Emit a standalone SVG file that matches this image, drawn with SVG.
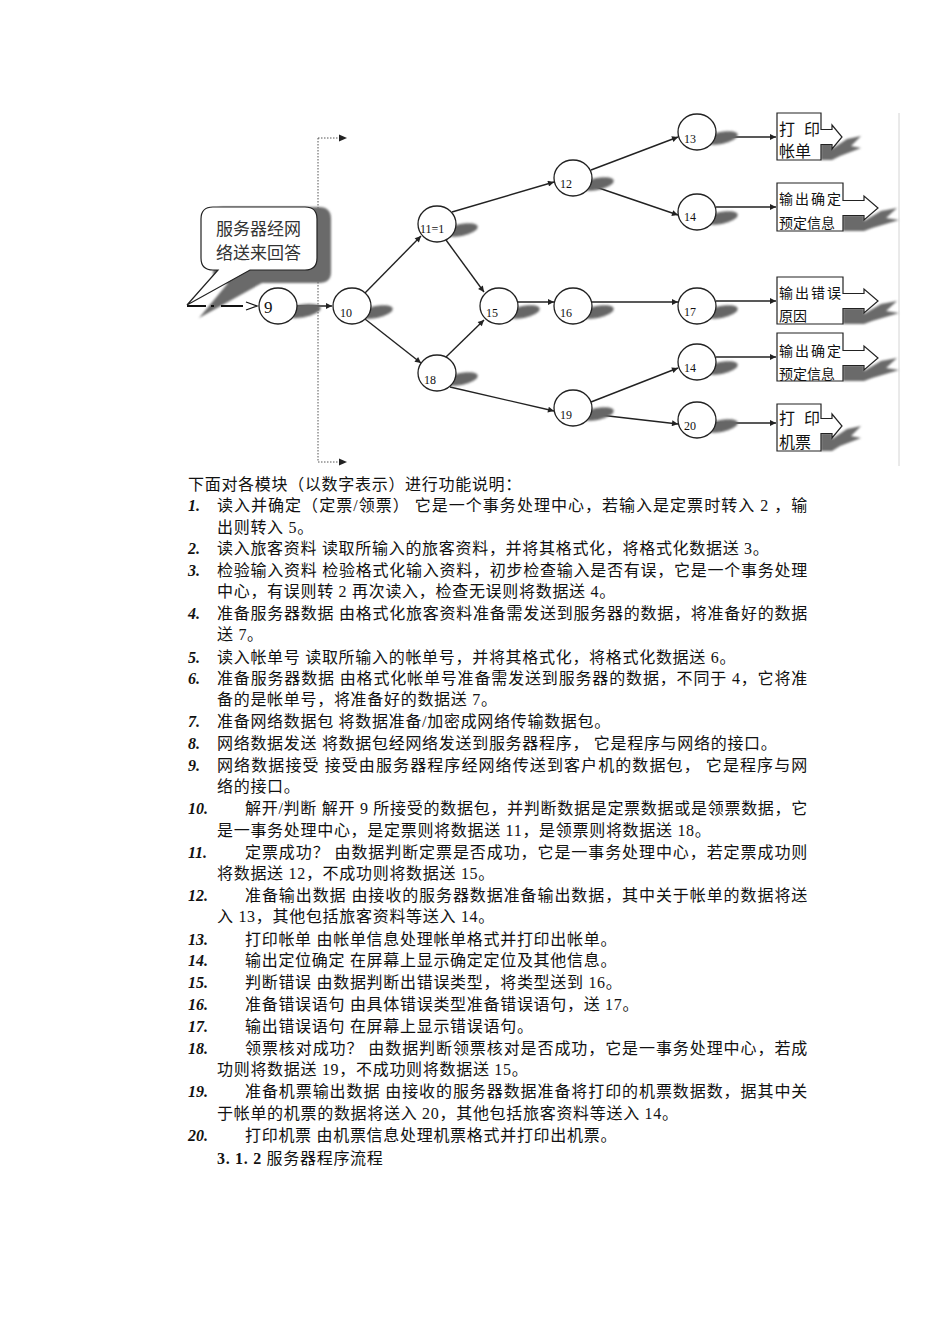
<svg xmlns="http://www.w3.org/2000/svg" width="950" height="1344" viewBox="0 0 950 1344">
<style>
.node ellipse.c{fill:#fff;stroke:#222;stroke-width:1.3}
.sh{fill:#666}
.lbl{font-family:"Liberation Serif","Noto Sans CJK SC",serif;font-size:12px;fill:#111}
.edge{stroke:#222;stroke-width:1.4;fill:none}
.box{fill:#fff;stroke:#222;stroke-width:1.2}
.bt{font-family:"Liberation Serif","Noto Sans CJK SC",serif;fill:#111}
.body{font-family:"Liberation Serif","Noto Sans CJK SC",serif;font-size:16px;fill:#111;letter-spacing:0.7px}
.num{font-family:"Liberation Serif","Noto Sans CJK SC",serif;font-size:16px;font-weight:bold;font-style:italic;fill:#111}
</style>
<defs>
<marker id="ah" viewBox="0 0 10 10" refX="10" refY="5" markerWidth="9" markerHeight="6" markerUnits="userSpaceOnUse" orient="auto"><path d="M0,0 L10,5 L0,10 z" fill="#222"/></marker>
<filter id="blur" x="-30%" y="-30%" width="160%" height="160%"><feGaussianBlur stdDeviation="0.9"/></filter>
</defs>
<rect width="950" height="1344" fill="#fff"/>

<!-- frame lines -->
<g id="frame">
<line x1="899" y1="113" x2="899" y2="466" stroke="#d4d4d4" stroke-width="1"/>
<line x1="318" y1="138" x2="318" y2="462" stroke="#555" stroke-width="1" stroke-dasharray="1.5,1.5"/>
<line x1="318" y1="138" x2="339" y2="138" stroke="#555" stroke-width="1" stroke-dasharray="1.5,1.5"/>
<path d="M339,134.5 L347,138 L339,141.5 z" fill="#222"/>
<line x1="318" y1="462" x2="339" y2="462" stroke="#555" stroke-width="1" stroke-dasharray="1.5,1.5"/>
<path d="M339,458.5 L347,462 L339,465.5 z" fill="#222"/>
</g>

<!-- callout -->
<g id="callout">
<path d="M213,217 Q213,207 223,207 L319,207 Q331,207 331,219 L331,272 Q331,283 319,283 L262,283 L199,318 L228,283 L223,283 Q213,283 213,270 Z" fill="#6a6a6a" filter="url(#blur)"/>
<path d="M201,219 Q201,207 213,207 L305,207 Q317,207 317,219 L317,258 Q317,270 305,270 L250,270 L187,305 L218,270 L213,270 Q201,270 201,258 Z" fill="#fff" stroke="#222" stroke-width="1.2"/>
<text x="216" y="235" font-family="Liberation Serif,'Noto Sans CJK SC',serif" font-size="17" fill="#333">服务器经网</text>
<text x="216" y="259" font-family="Liberation Serif,'Noto Sans CJK SC',serif" font-size="17" fill="#333">络送来回答</text>
</g>

<!-- connectors -->
<g id="connectors">
<g stroke="#111" stroke-width="2">
<line x1="187" y1="306" x2="206" y2="306"/>
<line x1="211" y1="306" x2="214" y2="306"/>
<line x1="221" y1="306" x2="243" y2="306"/>
</g>
<path d="M246,302 L257,306 L246,310" fill="none" stroke="#111" stroke-width="1.3"/>
<line class="edge" x1="297" y1="306" x2="332" y2="306" marker-end="url(#ah)"/>
<line class="edge" x1="365" y1="293" x2="421" y2="236" marker-end="url(#ah)"/>
<line class="edge" x1="365" y1="319" x2="421" y2="363" marker-end="url(#ah)"/>
<line class="edge" x1="452" y1="212" x2="554" y2="182" marker-end="url(#ah)"/>
<line class="edge" x1="446" y1="240" x2="484" y2="292" marker-end="url(#ah)"/>
<line class="edge" x1="446" y1="357" x2="484" y2="320" marker-end="url(#ah)"/>
<line class="edge" x1="450" y1="387" x2="554" y2="411" marker-end="url(#ah)"/>
<line class="edge" x1="591" y1="170" x2="678" y2="137" marker-end="url(#ah)"/>
<line class="edge" x1="590" y1="185" x2="678" y2="215" marker-end="url(#ah)"/>
<line class="edge" x1="518" y1="302" x2="554" y2="302" marker-end="url(#ah)"/>
<line class="edge" x1="592" y1="302" x2="678" y2="302" marker-end="url(#ah)"/>
<line class="edge" x1="591" y1="402" x2="678" y2="368" marker-end="url(#ah)"/>
<line class="edge" x1="591" y1="414" x2="678" y2="424" marker-end="url(#ah)"/>
<line class="edge" x1="716" y1="137" x2="776" y2="137" marker-end="url(#ah)"/>
<line class="edge" x1="716" y1="207" x2="776" y2="207" marker-end="url(#ah)"/>
<line class="edge" x1="716" y1="301" x2="776" y2="301" marker-end="url(#ah)"/>
<line class="edge" x1="716" y1="357" x2="776" y2="357" marker-end="url(#ah)"/>
<line class="edge" x1="716" y1="423" x2="776" y2="423" marker-end="url(#ah)"/>
</g>

<!-- nodes -->
<g id="n9" class="node"><ellipse class="sh" cx="302" cy="311" rx="19" ry="6.5" transform="rotate(-10 302 311)" filter="url(#blur)"/><ellipse class="c" cx="278" cy="306" rx="19" ry="18"/><text x="264" y="313" font-family="Liberation Serif,'Noto Sans CJK SC',serif" font-size="17" fill="#111">9</text></g>
<g id="n10" class="node"><ellipse class="sh" cx="376" cy="312" rx="17" ry="6" transform="rotate(-12 376 312)" filter="url(#blur)"/><ellipse class="c" cx="352" cy="306" rx="19" ry="18"/><text class="lbl" x="340" y="317">10</text></g>
<g id="n11" class="node"><ellipse class="sh" cx="461" cy="230" rx="17" ry="6" transform="rotate(-12 461 230)" filter="url(#blur)"/><ellipse class="c" cx="437" cy="224" rx="19" ry="18"/><text class="lbl" x="420" y="233">11=1</text></g>
<g id="n18" class="node"><ellipse class="sh" cx="461" cy="379" rx="17" ry="6" transform="rotate(-12 461 379)" filter="url(#blur)"/><ellipse class="c" cx="437" cy="373" rx="19" ry="18"/><text class="lbl" x="424" y="384">18</text></g>
<g id="n12" class="node"><ellipse class="sh" cx="597" cy="184" rx="17" ry="6" transform="rotate(-12 597 184)" filter="url(#blur)"/><ellipse class="c" cx="573" cy="178" rx="19" ry="18"/><text class="lbl" x="560" y="188">12</text></g>
<g id="n15" class="node"><ellipse class="sh" cx="523" cy="312" rx="17" ry="6" transform="rotate(-12 523 312)" filter="url(#blur)"/><ellipse class="c" cx="499" cy="306" rx="19" ry="18"/><text class="lbl" x="486" y="317">15</text></g>
<g id="n16" class="node"><ellipse class="sh" cx="597" cy="312" rx="17" ry="6" transform="rotate(-12 597 312)" filter="url(#blur)"/><ellipse class="c" cx="573" cy="306" rx="19" ry="18"/><text class="lbl" x="560" y="317">16</text></g>
<g id="n19" class="node"><ellipse class="sh" cx="597" cy="414" rx="17" ry="6" transform="rotate(-12 597 414)" filter="url(#blur)"/><ellipse class="c" cx="573" cy="408" rx="19" ry="18"/><text class="lbl" x="560" y="419">19</text></g>
<g id="n13" class="node"><ellipse class="sh" cx="721" cy="138" rx="17" ry="6" transform="rotate(-12 721 138)" filter="url(#blur)"/><ellipse class="c" cx="697" cy="132" rx="19" ry="18"/><text class="lbl" x="684" y="143">13</text></g>
<g id="n14a" class="node"><ellipse class="sh" cx="721" cy="218" rx="17" ry="6" transform="rotate(-12 721 218)" filter="url(#blur)"/><ellipse class="c" cx="697" cy="212" rx="19" ry="18"/><text class="lbl" x="684" y="221">14</text></g>
<g id="n17" class="node"><ellipse class="sh" cx="721" cy="312" rx="17" ry="6" transform="rotate(-12 721 312)" filter="url(#blur)"/><ellipse class="c" cx="697" cy="306" rx="19" ry="18"/><text class="lbl" x="684" y="316">17</text></g>
<g id="n14b" class="node"><ellipse class="sh" cx="721" cy="368" rx="17" ry="6" transform="rotate(-12 721 368)" filter="url(#blur)"/><ellipse class="c" cx="697" cy="362" rx="19" ry="18"/><text class="lbl" x="684" y="372">14</text></g>
<g id="n20" class="node"><ellipse class="sh" cx="721" cy="426" rx="17" ry="6" transform="rotate(-12 721 426)" filter="url(#blur)"/><ellipse class="c" cx="697" cy="420" rx="19" ry="18"/><text class="lbl" x="684" y="430">20</text></g>

<!-- output boxes -->
<g id="out1">
<path d="M821,143 L832,143 L832,149 L847,139 L861,136 L851,146 L861,148 L840,156 L832,160 L821,160 Z" fill="#6a6a6a" filter="url(#blur)"/>
<path d="M777,113 L821,113 L821,129.5 L832,129.5 L832,125 L842,137 L832,149 L832,144.5 L821,144.5 L821,160 L777,160 Z" class="box"/>
<text class="bt" x="779" y="135" font-size="16" textLength="41" lengthAdjust="spacing">打 印</text>
<text class="bt" x="779" y="157" font-size="16">帐单</text>
</g>
<g id="out2">
<path d="M843,215 L864,215 L864,221 L881,211 L897,208 L886,218 L899,220 L872,228 L864,231 L843,231 Z" fill="#6a6a6a" filter="url(#blur)"/>
<path d="M777,183 L843,183 L843,200.5 L864,200.5 L864,196 L878,208 L864,220 L864,215.5 L843,215.5 L843,231 L777,231 Z" class="box"/>
<text class="bt" x="779" y="204" font-size="14" textLength="62" lengthAdjust="spacing">输出确定</text>
<text class="bt" x="779" y="228" font-size="14">预定信息</text>
</g>
<g id="out3">
<path d="M843,308 L864,308 L864,314 L881,304 L897,301 L886,311 L899,313 L872,321 L864,324 L843,324 Z" fill="#6a6a6a" filter="url(#blur)"/>
<path d="M777,277 L843,277 L843,293.5 L864,293.5 L864,289 L878,301 L864,313 L864,308.5 L843,308.5 L843,324 L777,324 Z" class="box"/>
<text class="bt" x="779" y="298" font-size="14" textLength="62" lengthAdjust="spacing">输出错误</text>
<text class="bt" x="779" y="321" font-size="14">原因</text>
</g>
<g id="out4">
<path d="M843,365 L864,365 L864,371 L881,361 L897,358 L886,368 L899,370 L872,378 L864,381 L843,381 Z" fill="#6a6a6a" filter="url(#blur)"/>
<path d="M777,333 L843,333 L843,350.5 L864,350.5 L864,346 L878,358 L864,370 L864,365.5 L843,365.5 L843,381 L777,381 Z" class="box"/>
<text class="bt" x="779" y="356" font-size="14" textLength="62" lengthAdjust="spacing">输出确定</text>
<text class="bt" x="779" y="379" font-size="14">预定信息</text>
</g>
<g id="out5">
<path d="M821,433 L832,433 L832,439 L847,429 L861,426 L851,436 L861,438 L840,446 L832,451 L821,451 Z" fill="#6a6a6a" filter="url(#blur)"/>
<path d="M777,404 L821,404 L821,418.5 L832,418.5 L832,414 L842,426 L832,438 L832,433.5 L821,433.5 L821,451 L777,451 Z" class="box"/>
<text class="bt" x="779" y="424" font-size="16" textLength="41" lengthAdjust="spacing">打 印</text>
<text class="bt" x="779" y="448" font-size="16">机票</text>
</g>

<!-- description text -->
<g id="description">
<text class="body" x="188" y="490" letter-spacing="0">下面对各模块（以数字表示）进行功能说明：</text>
<text class="num" x="188" y="511" font-style="normal">1.</text>
<text class="body" x="217" y="511" textLength="591" lengthAdjust="spacing">读入并确定（定票/领票） 它是一个事务处理中心，若输入是定票时转入 2 ，输</text>
<text class="body" x="217" y="533">出则转入 5。</text>
<text class="num" x="188" y="554">2.</text>
<text class="body" x="217" y="554">读入旅客资料 读取所输入的旅客资料，并将其格式化，将格式化数据送 3。</text>
<text class="num" x="188" y="576">3.</text>
<text class="body" x="217" y="576" textLength="591" lengthAdjust="spacing">检验输入资料 检验格式化输入资料，初步检查输入是否有误，它是一个事务处理</text>
<text class="body" x="217" y="597">中心，有误则转 2 再次读入，检查无误则将数据送 4。</text>
<text class="num" x="188" y="619">4.</text>
<text class="body" x="217" y="619" textLength="591" lengthAdjust="spacing">准备服务器数据 由格式化旅客资料准备需发送到服务器的数据，将准备好的数据</text>
<text class="body" x="217" y="640">送 7。</text>
<text class="num" x="188" y="663">5.</text>
<text class="body" x="217" y="663">读入帐单号 读取所输入的帐单号，并将其格式化，将格式化数据送 6。</text>
<text class="num" x="188" y="684">6.</text>
<text class="body" x="217" y="684" textLength="591" lengthAdjust="spacing">准备服务器数据 由格式化帐单号准备需发送到服务器的数据，不同于 4，它将准</text>
<text class="body" x="217" y="705">备的是帐单号，将准备好的数据送 7。</text>
<text class="num" x="188" y="727">7.</text>
<text class="body" x="217" y="727">准备网络数据包 将数据准备/加密成网络传输数据包。</text>
<text class="num" x="188" y="749">8.</text>
<text class="body" x="217" y="749">网络数据发送 将数据包经网络发送到服务器程序， 它是程序与网络的接口。</text>
<text class="num" x="188" y="771">9.</text>
<text class="body" x="217" y="771" textLength="591" lengthAdjust="spacing">网络数据接受 接受由服务器程序经网络传送到客户机的数据包， 它是程序与网</text>
<text class="body" x="217" y="792">络的接口。</text>
<text class="num" x="188" y="814">10.</text>
<text class="body" x="245" y="814" textLength="563" lengthAdjust="spacing">解开/判断 解开 9 所接受的数据包，并判断数据是定票数据或是领票数据，它</text>
<text class="body" x="217" y="836">是一事务处理中心，是定票则将数据送 11，是领票则将数据送 18。</text>
<text class="num" x="188" y="858">11.</text>
<text class="body" x="245" y="858" textLength="563" lengthAdjust="spacing">定票成功？ 由数据判断定票是否成功，它是一事务处理中心，若定票成功则</text>
<text class="body" x="217" y="879">将数据送 12，不成功则将数据送 15。</text>
<text class="num" x="188" y="901">12.</text>
<text class="body" x="245" y="901" textLength="563" lengthAdjust="spacing">准备输出数据 由接收的服务器数据准备输出数据，其中关于帐单的数据将送</text>
<text class="body" x="217" y="922">入 13，其他包括旅客资料等送入 14。</text>
<text class="num" x="188" y="945">13.</text>
<text class="body" x="245" y="945">打印帐单 由帐单信息处理帐单格式并打印出帐单。</text>
<text class="num" x="188" y="966">14.</text>
<text class="body" x="245" y="966">输出定位确定 在屏幕上显示确定定位及其他信息。</text>
<text class="num" x="188" y="988">15.</text>
<text class="body" x="245" y="988">判断错误 由数据判断出错误类型，将类型送到 16。</text>
<text class="num" x="188" y="1010">16.</text>
<text class="body" x="245" y="1010">准备错误语句 由具体错误类型准备错误语句，送 17。</text>
<text class="num" x="188" y="1032">17.</text>
<text class="body" x="245" y="1032">输出错误语句 在屏幕上显示错误语句。</text>
<text class="num" x="188" y="1054">18.</text>
<text class="body" x="245" y="1054" textLength="563" lengthAdjust="spacing">领票核对成功？ 由数据判断领票核对是否成功，它是一事务处理中心，若成</text>
<text class="body" x="217" y="1075">功则将数据送 19，不成功则将数据送 15。</text>
<text class="num" x="188" y="1097">19.</text>
<text class="body" x="245" y="1097" textLength="563" lengthAdjust="spacing">准备机票输出数据 由接收的服务器数据准备将打印的机票数据数，据其中关</text>
<text class="body" x="217" y="1119">于帐单的机票的数据将送入 20，其他包括旅客资料等送入 14。</text>
<text class="num" x="188" y="1141">20.</text>
<text class="body" x="245" y="1141">打印机票 由机票信息处理机票格式并打印出机票。</text>
<text class="body" x="217" y="1164"><tspan font-weight="bold">3. 1. 2</tspan> 服务器程序流程</text>
</g>
</svg>
